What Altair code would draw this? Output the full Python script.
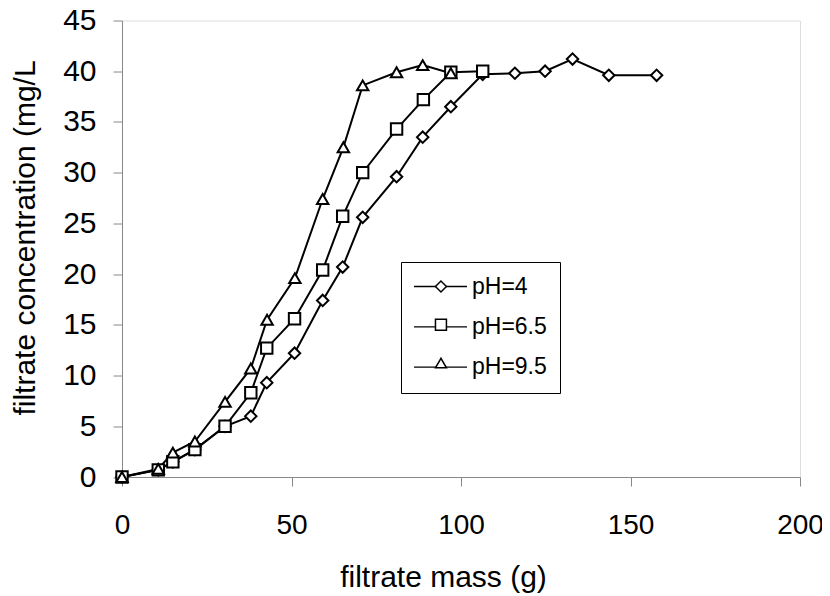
import altair as alt
import pandas as pd

series_names = ["pH=4", "pH=6.5", "pH=9.5"]
marker_shapes = ["diamond", "square", "triangle-up"]

x_ph4 = [0, 10.7, 15, 21.5, 30.4, 38, 42.7, 50.9, 59.2, 65.1, 71, 81, 88.7, 97, 106.4, 115.9, 124.8, 132.9, 143.6, 157.7]
y_ph4 = [0, 0.7, 1.5, 2.7, 5.0, 6.0, 9.3, 12.2, 17.4, 20.7, 25.6, 29.6, 33.5, 36.5, 39.7, 39.8, 40.0, 41.2, 39.6, 39.6]

x_ph65 = [0, 10.7, 15, 21.5, 30.4, 38, 42.7, 50.9, 59.2, 65.1, 71, 81, 88.9, 97, 106.4]
y_ph65 = [0, 0.7, 1.5, 2.7, 5.0, 8.3, 12.7, 15.6, 20.4, 25.7, 30.0, 34.3, 37.2, 39.9, 40.0]

x_ph95 = [0, 10.7, 15, 21.5, 30.4, 38, 42.8, 51, 59.2, 65.3, 71, 81, 88.7, 97]
y_ph95 = [0, 0.8, 2.4, 3.5, 7.4, 10.7, 15.5, 19.6, 27.4, 32.5, 38.6, 39.9, 40.6, 39.8]

x_ticks = [0, 50, 100, 150, 200]
y_ticks = [0, 5, 10, 15, 20, 25, 30, 35, 40, 45]

rows = []
for name, xs, ys in zip(series_names, [x_ph4, x_ph65, x_ph95], [y_ph4, y_ph65, y_ph95]):
    for i, (xv, yv) in enumerate(zip(xs, ys)):
        rows.append({"series": name, "x": xv, "y": yv, "order": i})
df = pd.DataFrame(rows)

FONT = "Liberation Sans"

x_scale = alt.Scale(domain=[0, 200], nice=False)
y_scale = alt.Scale(domain=[0, 45], nice=False)

x_enc = alt.X("x:Q", scale=x_scale,
              axis=alt.Axis(values=x_ticks, title="filtrate mass (g)", grid=False,
                            labelFontSize=28, titleFontSize=30, labelFont=FONT, titleFont=FONT,
                            labelPadding=25, tickSize=9, titleFontWeight="normal", labelFlush=False,
                            titleX=321, titleY=109, titleAlign="center", titleBaseline="alphabetic",
                            labelColor="black", titleColor="black"))
y_enc = alt.Y("y:Q", scale=y_scale,
              axis=alt.Axis(values=y_ticks, title="filtrate concentration (mg/L", grid=False,
                            labelFontSize=30, titleFontSize=30, labelFont=FONT, titleFont=FONT,
                            labelPadding=17, tickSize=9, titleFontWeight="normal", labelFlush=False,
                            titleAngle=270, titleX=-88, titleY=217, titleAlign="center",
                            titleBaseline="alphabetic", labelColor="black", titleColor="black"))

# legend geometry (pixels, relative to the plot area)
LEG_X = 279
LEG_Y = 241.5
LEG_PAD = 13
ROW_PAD = 16.3
ROW_STEP = 38.3
LEG_FONT = 23
MARK_LEG_X = 312.6
MARK_LEG_Y0 = 254.5

# legend box with labels and line symbols (no marks of its own)
legend_box = alt.Chart(df).transform_filter("datum.x < -1000").mark_line(strokeWidth=1.3).encode(
    x=alt.X("x:Q", scale=x_scale), y=alt.Y("y:Q", scale=y_scale),
    color=alt.Color("series:N",
                    scale=alt.Scale(domain=series_names, range=["black", "black", "black"]),
                    legend=alt.Legend(title=None, orient="none", legendX=LEG_X, legendY=LEG_Y,
                                      strokeColor="black", fillColor="white", padding=LEG_PAD,
                                      labelFontSize=LEG_FONT, labelFont=FONT, labelColor="black",
                                      symbolType="M-4.08,0L4.08,0", symbolSize=169,
                                      symbolStrokeWidth=1.3, symbolOffset=15, labelOffset=20,
                                      rowPadding=ROW_PAD, zindex=1)))

# one line layer per series; each carries a one-entry legend that shows its marker
line_layers = []
for k, (name, shp) in enumerate(zip(series_names, marker_shapes)):
    line_layers.append(
        alt.Chart(df).transform_filter(alt.datum.series == name).mark_line(strokeWidth=2).encode(
            x=x_enc, y=y_enc, order="order:Q",
            color=alt.Color("series:N", scale=alt.Scale(domain=[name], range=["black"]),
                            legend=alt.Legend(title=None, orient="none", legendX=MARK_LEG_X,
                                              legendY=MARK_LEG_Y0 + k * ROW_STEP, padding=0,
                                              labelFontSize=LEG_FONT, labelFont=FONT, labelOpacity=0,
                                              symbolType=shp, symbolSize=120,
                                              symbolStrokeWidth=1.5, symbolFillColor="white",
                                              symbolOffset=-5.15, labelOffset=3, zindex=2))))

points = alt.Chart(df).mark_point(filled=True, fill="white", stroke="black", strokeWidth=2,
                                  size=130, opacity=1).encode(
    x=x_enc, y=y_enc,
    shape=alt.Shape("series:N",
                    scale=alt.Scale(domain=series_names, range=marker_shapes),
                    legend=None))

chart = alt.layer(legend_box, *line_layers, points).resolve_scale(
    color="independent").resolve_legend(color="independent").properties(
    width=678, height=456.5,
    autosize=alt.AutoSizeParams(type="none"),
    padding={"left": 114, "top": 12.5, "right": 22, "bottom": 119},
).configure_view(stroke=None).configure_axis(
    domainColor="#808080", tickColor="#808080", domainWidth=2, tickWidth=1.5
).configure(background="white")

chart.save("out.html", embed_options={"renderer": "svg", "actions": False})
